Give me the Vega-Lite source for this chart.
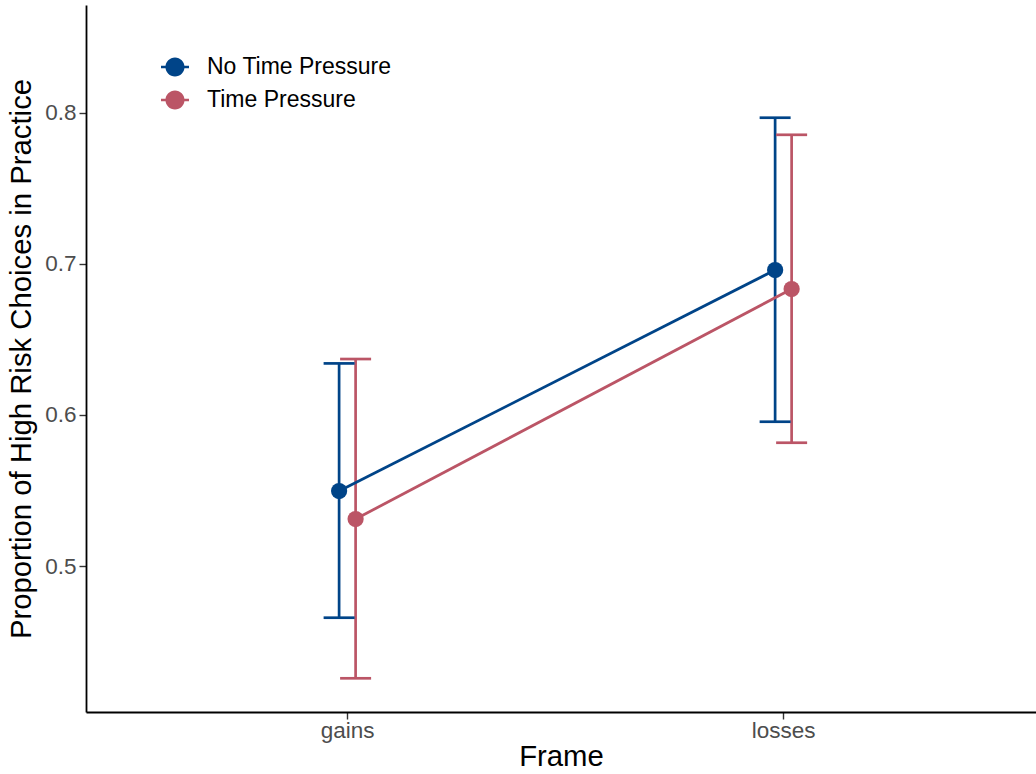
{
  "$schema": "https://vega.github.io/schema/vega-lite/v6.json",
  "autosize": {"type": "none"},
  "padding": {"left": 86, "top": 5, "right": 0, "bottom": 62},
  "width": 950,
  "height": 707,
  "background": "white",
  "config": {
    "view": {"stroke": null},
    "font": "Liberation Sans",
    "axis": {
      "grid": false,
      "domainColor": "black",
      "domainWidth": 1.8,
      "tickColor": "#333333",
      "tickWidth": 1.4,
      "tickSize": 7,
      "labelColor": "#4D4D4D",
      "labelFontSize": 22.5,
      "labelFont": "Liberation Sans",
      "titleFont": "Liberation Sans",
      "titleFontSize": 29.3,
      "titleFontWeight": "normal",
      "titleColor": "black"
    }
  },
  "data": {
    "values": [
      {"Frame": "gains", "Condition": "No Time Pressure", "mean": 0.5496, "lo": 0.4658, "hi": 0.6341},
      {"Frame": "gains", "Condition": "Time Pressure", "mean": 0.5311, "lo": 0.4257, "hi": 0.6370},
      {"Frame": "losses", "Condition": "No Time Pressure", "mean": 0.6959, "lo": 0.5955, "hi": 0.7967},
      {"Frame": "losses", "Condition": "Time Pressure", "mean": 0.6833, "lo": 0.5816, "hi": 0.7854}
    ]
  },
  "encoding": {
    "x": {
      "field": "Frame",
      "type": "nominal",
      "scale": {"type": "point", "padding": 0.5894, "align": 0.508},
      "axis": {"labelAngle": 0, "labelPadding": 0, "title": "Frame", "titlePadding": 1}
    },
    "xOffset": {
      "field": "Condition",
      "type": "nominal",
      "scale": {"domain": ["No Time Pressure", "Time Pressure"], "range": [-16.25, 16.75]}
    },
    "color": {
      "field": "Condition",
      "type": "nominal",
      "scale": {"domain": ["No Time Pressure", "Time Pressure"], "range": ["#004488", "#BB5566"]},
      "legend": {
        "title": null,
        "orient": "none",
        "legendX": 75,
        "legendY": 48,
        "padding": 0,
        "symbolType": "M-1,-0.09H-0.6V0.09H-1Z M0.6,-0.09H1V0.09H0.6Z M0.68,0A0.68,0.68,0,1,1,-0.68,0A0.68,0.68,0,1,1,0.68,0Z",
        "symbolSize": 784,
        "symbolStrokeWidth": 0,
        "symbolOpacity": 1,
        "labelFontSize": 23,
        "labelFont": "Liberation Sans",
        "labelColor": "black",
        "labelLimit": 0,
        "labelOffset": 18,
        "rowPadding": 7
      }
    }
  },
  "layer": [
    {
      "mark": {"type": "rule", "strokeWidth": 2.7, "opacity": 1},
      "encoding": {
        "y": {
          "field": "lo",
          "type": "quantitative",
          "scale": {"domain": [0.4034, 0.8713], "nice": false, "zero": false},
          "axis": {
            "values": [0.5, 0.6, 0.7, 0.8],
            "format": ".1f",
            "labelPadding": 3,
            "title": "Proportion of High Risk Choices in Practice",
            "titlePadding": 8
          }
        },
        "y2": {"field": "hi"}
      }
    },
    {
      "mark": {"type": "tick", "size": 31, "thickness": 2.7, "orient": "horizontal", "opacity": 1},
      "encoding": {"y": {"field": "lo", "type": "quantitative"}}
    },
    {
      "mark": {"type": "tick", "size": 31, "thickness": 2.7, "orient": "horizontal", "opacity": 1},
      "encoding": {"y": {"field": "hi", "type": "quantitative"}}
    },
    {
      "mark": {"type": "line", "strokeWidth": 2.8},
      "encoding": {"y": {"field": "mean", "type": "quantitative"}, "detail": {"field": "Condition"}}
    },
    {
      "mark": {"type": "point", "filled": true, "size": 263, "opacity": 1},
      "encoding": {"y": {"field": "mean", "type": "quantitative"}}
    }
  ]
}
